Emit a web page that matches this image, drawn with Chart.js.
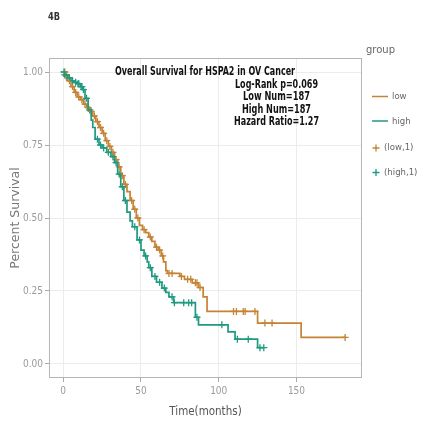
<!DOCTYPE html>
<html>
<head>
<meta charset="utf-8">
<script src="https://cdn.jsdelivr.net/npm/chart.js@4.4.0/dist/chart.umd.min.js"></script>
<style>
  html, body { margin: 0; padding: 0; background: #fff; }
  #wrap { width: 424px; height: 421px; position: relative; }
</style>
</head>
<body>
<div id="wrap"><canvas id="km"></canvas></div>
<script>
// Kaplan-Meier steps (time in months, survival after the drop)
const lowTime = [0, 2, 3, 5, 7, 9, 11, 13, 15, 17, 19, 21, 23, 25, 27, 29, 31, 33, 35, 37, 39, 41, 43, 45, 47, 49, 51, 53, 55, 57, 59, 61, 63, 64.5, 66, 67, 75, 78, 83, 87, 90, 92.5, 125, 153, 181.3];
const lowSurv = [1.00, 0.985, 0.97, 0.95, 0.93, 0.915, 0.905, 0.89, 0.878, 0.865, 0.85, 0.83, 0.81, 0.79, 0.765, 0.745, 0.725, 0.70, 0.675, 0.645, 0.615, 0.59, 0.56, 0.53, 0.50, 0.475, 0.46, 0.45, 0.435, 0.42, 0.40, 0.39, 0.37, 0.35, 0.32, 0.31, 0.30, 0.29, 0.278, 0.262, 0.23, 0.18, 0.14, 0.091, 0.091];
const highTime = [0, 1, 3, 5, 7, 9, 11, 12.5, 14, 16, 18, 19, 20.5, 23, 25, 28, 30.7, 33, 35, 37, 39, 41, 43, 44.5, 47.5, 50, 52, 54, 55, 57, 60, 63.5, 66, 68, 71, 85, 87, 106, 110.5, 125, 129];
const highSurv = [1.00, 0.99, 0.98, 0.97, 0.965, 0.96, 0.95, 0.94, 0.91, 0.87, 0.835, 0.81, 0.77, 0.75, 0.74, 0.725, 0.71, 0.69, 0.65, 0.607, 0.56, 0.52, 0.49, 0.47, 0.425, 0.39, 0.37, 0.35, 0.33, 0.30, 0.28, 0.26, 0.245, 0.23, 0.21, 0.16, 0.134, 0.11, 0.085, 0.056, 0.056];
// censored observations (+ marks)
const lowCensor = [1, 2, 4, 6, 8, 10, 12, 14, 16, 18, 20, 22, 24, 26, 28, 30, 32, 34, 36, 38, 40, 44, 46, 48, 52, 56, 60, 62, 64, 68, 70, 76, 80, 82, 85, 86, 88, 109.5, 111.4, 115.8, 117, 123.3, 129.7, 134.3, 181.3];
const highCensor = [0.5, 1, 2, 4, 6, 8, 9.5, 10, 11.5, 12, 13, 15, 17, 22, 24, 26, 29, 32, 34, 36, 38, 40, 46, 49, 53, 56, 59, 62, 65, 70, 71.5, 77.5, 80.7, 82.6, 86, 102, 112, 119, 126.5, 129];

const xTicks = [0, 50, 100, 150];
const yTicks = [0, 0.25, 0.5, 0.75, 1];

const plotTitle = 'Overall Survival for HSPA2 in OV Cancer';
const statLines = ['Log-Rank p=0.069', 'Low Num=187', 'High Num=187', 'Hazard Ratio=1.27'];

const LOW_COLOR = '#C58335';
const HIGH_COLOR = '#1F9A80';
const NARROW = "'Liberation Sans Narrow', 'DejaVu Sans Condensed', 'Liberation Sans', sans-serif";

function survAt(times, surv, t) {
  let s = surv[0];
  for (let i = 0; i < times.length; i++) {
    if (times[i] <= t) s = surv[i];
  }
  return s;
}

function toPoints(times, surv) {
  return times.map((t, i) => ({ x: t, y: surv[i] }));
}

function censorPoints(censor, times, surv) {
  return censor.map(t => ({ x: t, y: survAt(times, surv, t) }));
}

// draw text squeezed horizontally to a given width (figure text looks condensed)
function drawFit(ctx, text, cx, cy, width, font, color) {
  ctx.save();
  ctx.font = font;
  ctx.fillStyle = color;
  ctx.textAlign = 'center';
  ctx.textBaseline = 'middle';
  const w = ctx.measureText(text).width;
  const k = width / w;
  ctx.translate(cx, cy);
  ctx.scale(k, 1);
  ctx.fillText(text, 0, 0);
  ctx.restore();
}

const decorPlugin = {
  id: 'decor',
  afterDraw(chart) {
    const ctx = chart.ctx;
    const a = chart.chartArea;
    // panel border
    ctx.save();
    ctx.strokeStyle = '#b5b5b5';
    ctx.lineWidth = 1;
    ctx.strokeRect(a.left + 0.5, a.top + 0.5, a.right - a.left - 1, a.bottom - a.top - 1);
    ctx.restore();

    // panel label
    drawFit(ctx, '4B', 54, 17, 12, 'bold 11px ' + NARROW, '#333');

    // annotation
    drawFit(ctx, plotTitle, 205, 72, 180, 'bold 12px ' + NARROW, '#111');
    const widths = [83, 67, 69, 85];
    statLines.forEach((s, i) => {
      drawFit(ctx, s, 276.5, 85 + i * 12.3, widths[i], 'bold 12px ' + NARROW, '#111');
    });

    // legend
    ctx.save();
    ctx.font = "10px 'DejaVu Sans', sans-serif";
    ctx.fillStyle = '#666';
    ctx.textBaseline = 'middle';
    ctx.fillText('group', 366, 50);
    ctx.lineWidth = 1.5;
    ctx.strokeStyle = LOW_COLOR;
    ctx.beginPath(); ctx.moveTo(372, 96.5); ctx.lineTo(388, 96.5); ctx.stroke();
    ctx.strokeStyle = HIGH_COLOR;
    ctx.beginPath(); ctx.moveTo(372, 121); ctx.lineTo(388, 121); ctx.stroke();
    const crosses = [[376, 148, LOW_COLOR], [376, 172.5, HIGH_COLOR]];
    crosses.forEach(([cx, cy, col]) => {
      ctx.strokeStyle = col;
      ctx.lineWidth = 1.3;
      ctx.beginPath();
      ctx.moveTo(cx - 3.5, cy); ctx.lineTo(cx + 3.5, cy);
      ctx.moveTo(cx, cy - 3.5); ctx.lineTo(cx, cy + 3.5);
      ctx.stroke();
    });
    ctx.restore();
    ctx.save();
    ctx.font = '9.5px ' + NARROW;
    ctx.fillStyle = '#666';
    ctx.textBaseline = 'middle';
    ctx.fillText('low', 392, 97);
    ctx.fillText('high', 392, 121.5);
    ctx.fillText('(low,1)', 384, 148);
    ctx.fillText('(high,1)', 384, 172.5);
    ctx.restore();
  }
};

const tickFont = { family: NARROW, size: 10 };

new Chart(document.getElementById('km'), {
  type: 'line',
  data: {
    datasets: [
      {
        label: 'high',
        data: toPoints(highTime, highSurv),
        borderColor: HIGH_COLOR,
        borderWidth: 1.7,
        stepped: 'before',
        pointRadius: 0,
        fill: false
      },
      {
        label: 'low',
        data: toPoints(lowTime, lowSurv),
        borderColor: LOW_COLOR,
        borderWidth: 1.7,
        stepped: 'before',
        pointRadius: 0,
        fill: false
      },
      {
        label: '(high,1)',
        type: 'scatter',
        data: censorPoints(highCensor, highTime, highSurv),
        borderColor: HIGH_COLOR,
        backgroundColor: HIGH_COLOR,
        pointStyle: 'cross',
        pointRadius: 3.5,
        borderWidth: 1.3
      },
      {
        label: '(low,1)',
        type: 'scatter',
        data: censorPoints(lowCensor, lowTime, lowSurv),
        borderColor: LOW_COLOR,
        backgroundColor: LOW_COLOR,
        pointStyle: 'cross',
        pointRadius: 3.5,
        borderWidth: 1.3
      }
    ]
  },
  options: {
    responsive: true,
    maintainAspectRatio: false,
    animation: false,
    devicePixelRatio: 1,
    layout: { padding: { left: 0, top: 58, right: 62, bottom: 0 } },
    plugins: {
      legend: { display: false },
      tooltip: { enabled: false }
    },
    scales: {
      x: {
        type: 'linear',
        min: -9.15,
        max: 192.15,
        afterBuildTicks: scale => { scale.ticks = xTicks.map(v => ({ value: v })); },
        afterFit: scale => { scale.height = 43; },
        grid: { color: '#ececec', tickColor: '#a8a8a8', tickLength: 4 },
        border: { display: false },
        ticks: { color: '#9a9a9a', font: tickFont, padding: 3, maxRotation: 0 },
        title: {
          display: true,
          text: 'Time(months)',
          color: '#555',
          font: { family: NARROW, size: 11.5 },
          padding: { top: 0, bottom: 2 }
        }
      },
      y: {
        type: 'linear',
        min: -0.048,
        max: 1.048,
        afterBuildTicks: scale => { scale.ticks = yTicks.map(v => ({ value: v })); },
        afterFit: scale => { scale.width = 49; },
        grid: { color: '#ececec', tickColor: '#a8a8a8', tickLength: 4 },
        border: { display: false },
        ticks: {
          color: '#9a9a9a',
          font: tickFont,
          padding: 2,
          callback: v => Number(v).toFixed(2)
        },
        title: {
          display: true,
          text: 'Percent Survival',
          color: '#777',
          font: { family: "'DejaVu Sans', sans-serif", size: 12.5 },
          padding: { top: 8, bottom: 0 }
        }
      }
    }
  },
  plugins: [decorPlugin]
});
</script>
</body>
</html>
